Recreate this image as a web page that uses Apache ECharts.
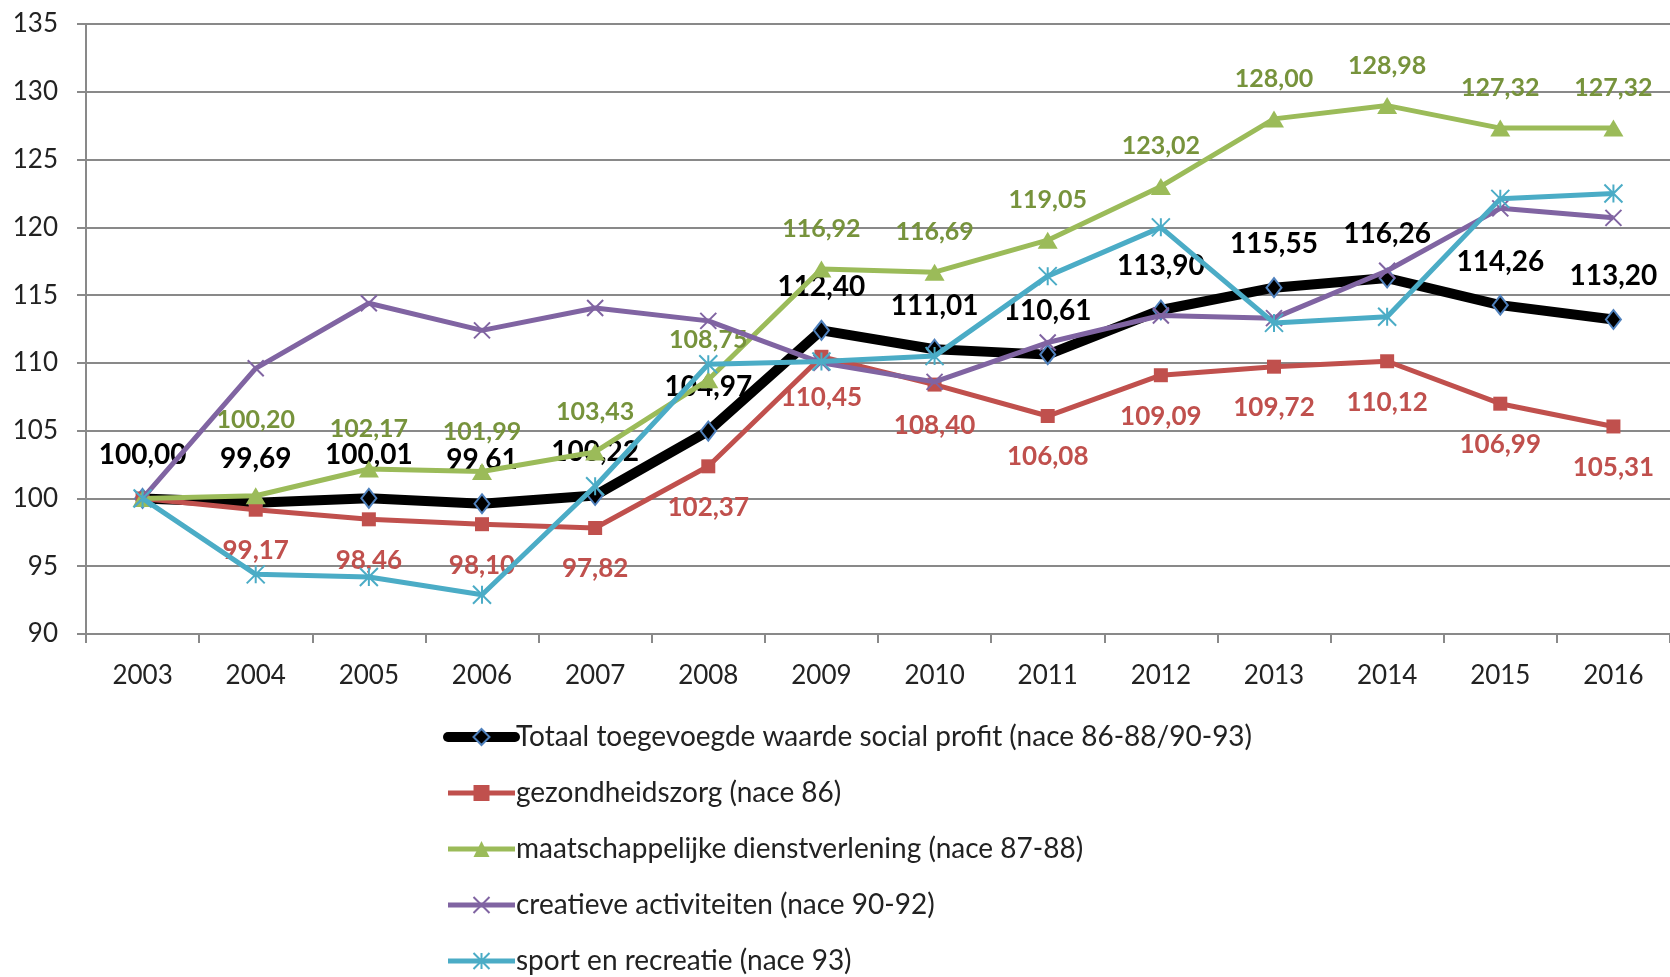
<!DOCTYPE html>
<html>
<head>
<meta charset="utf-8">
<script src="https://cdn.jsdelivr.net/npm/echarts@6.0.0/dist/echarts.min.js"></script>
<style>
html,body{margin:0;padding:0;background:#fff;}
#chart{width:1670px;height:977px;}
</style>
</head>
<body>
<div id="chart"></div>
<script>
const years = ['2003','2004','2005','2006','2007','2008','2009','2010','2011','2012','2013','2014','2015','2016'];
const yTicks = [90, 95, 100, 105, 110, 115, 120, 125, 130, 135];
const seriesNames = [
  'Totaal toegevoegde waarde social profit (nace 86-88/90-93)',
  'gezondheidszorg (nace 86)',
  'maatschappelijke dienstverlening (nace 87-88)',
  'creatieve activiteiten (nace 90-92)',
  'sport en recreatie (nace 93)'
];
const totaal = [100.00, 99.69, 100.01, 99.61, 100.22, 104.97, 112.40, 111.01, 110.61, 113.90, 115.55, 116.26, 114.26, 113.20];
const gezondheidszorg = [100.00, 99.17, 98.46, 98.10, 97.82, 102.37, 110.45, 108.40, 106.08, 109.09, 109.72, 110.12, 106.99, 105.31];
const maatschappelijk = [100.00, 100.20, 102.17, 101.99, 103.43, 108.75, 116.92, 116.69, 119.05, 123.02, 128.00, 128.98, 127.32, 127.32];
const creatief = [100.00, 109.6, 114.4, 112.4, 114.05, 113.1, 110.0, 108.6, 111.5, 113.5, 113.3, 116.8, 121.4, 120.7];
const sport = [100.00, 94.4, 94.2, 92.9, 100.9, 109.9, 110.1, 110.5, 116.4, 120.0, 112.95, 113.4, 122.1, 122.5];

const FONT = 'Lato, "Open Sans", sans-serif';
const fmt = p => p.value.toFixed(2).replace('.', ',');

function withLabelOverrides(values, hideFirst, specialIdx, specialDist) {
  return values.map((v, i) => {
    if (hideFirst && i === 0) return { value: v, label: { show: false } };
    if (i === specialIdx) return { value: v, label: { distance: specialDist } };
    return v;
  });
}

const xPath = 'path://M0,0 L10,10 M10,0 L0,10';
const starPath = 'path://M5,0 L5,10 M0,0 L10,10 M10,0 L0,10';
const colors = ['#000000', '#C0504D', '#9BBB59', '#8064A2', '#4BACC6'];
const widths = [10, 5, 5, 5, 5];

const option = {
  animation: false,
  backgroundColor: '#fff',
  grid: { left: 86, top: 24, width: 1596, height: 610, containLabel: false },
  xAxis: {
    type: 'category',
    data: years,
    boundaryGap: true,
    axisLine: { show: true, lineStyle: { color: '#898989', width: 2 } },
    axisTick: { show: true, length: 9, lineStyle: { color: '#898989', width: 2 } },
    axisLabel: { color: '#222', fontSize: 26, fontFamily: FONT, margin: 29 },
    splitLine: { show: false }
  },
  yAxis: {
    type: 'value',
    min: yTicks[0],
    max: yTicks[yTicks.length - 1],
    interval: 5,
    axisLine: { show: true, lineStyle: { color: '#898989', width: 2 } },
    axisTick: { show: true, length: 9, lineStyle: { color: '#898989', width: 2 } },
    axisLabel: { color: '#222', fontSize: 26, fontFamily: FONT, margin: 28 },
    splitLine: { show: true, lineStyle: { color: '#898989', width: 2 } }
  },
  legend: {
    orient: 'vertical',
    left: 443,
    top: 722,
    padding: 0,
    itemWidth: 67,
    itemHeight: 20,
    itemGap: 26,
    textStyle: { fontSize: 28, fontFamily: FONT, color: '#222', lineHeight: 30, padding: [0, 0, 0, -4] },
    data: seriesNames.map((n, i) => ({ name: n, lineStyle: { width: widths[i], color: colors[i] } }))
  },
  series: [
    {
      name: seriesNames[0], type: 'line', data: totaal,
      symbol: 'diamond', symbolSize: [15, 19],
      lineStyle: { color: '#000', width: 10, join: 'round', cap: 'round' },
      itemStyle: { color: '#000', borderColor: '#4F81BD', borderWidth: 2 },
      label: { show: true, position: 'top', distance: 19, formatter: fmt,
        color: '#000', fontSize: 28, fontWeight: 'bold', fontFamily: FONT },
      z: 2
    },
    {
      name: seriesNames[1], type: 'line', data: withLabelOverrides(gezondheidszorg, true, -1, 0),
      symbol: 'rect', symbolSize: 14,
      lineStyle: { color: '#C0504D', width: 5, join: 'round' },
      itemStyle: { color: '#C0504D' },
      label: { show: true, position: 'bottom', distance: 21, formatter: fmt,
        color: '#C0504D', fontSize: 26, fontWeight: 'bold', fontFamily: FONT },
      z: 3
    },
    {
      name: seriesNames[2], type: 'line', data: withLabelOverrides(maatschappelijk, true, 1, 55),
      symbol: 'triangle', symbolSize: [20, 17],
      lineStyle: { color: '#9BBB59', width: 5, join: 'round' },
      itemStyle: { color: '#9BBB59' },
      label: { show: true, position: 'top', distance: 19, formatter: fmt,
        color: '#77933C', fontSize: 25, fontWeight: 'bold', fontFamily: FONT },
      z: 4
    },
    {
      name: seriesNames[3], type: 'line', data: creatief,
      symbol: xPath, symbolSize: 16,
      lineStyle: { color: '#8064A2', width: 5, join: 'round' },
      itemStyle: { color: '#8064A2', borderColor: '#8064A2', borderWidth: 2 },
      label: { show: false },
      z: 5
    },
    {
      name: seriesNames[4], type: 'line', data: sport,
      symbol: starPath, symbolSize: 18,
      lineStyle: { color: '#4BACC6', width: 5, join: 'round' },
      itemStyle: { color: '#4BACC6', borderColor: '#4BACC6', borderWidth: 2 },
      label: { show: false },
      z: 6
    }
  ]
};

const chart = echarts.init(document.getElementById('chart'), null, { renderer: 'canvas' });
chart.setOption(option);
</script>
</body>
</html>
